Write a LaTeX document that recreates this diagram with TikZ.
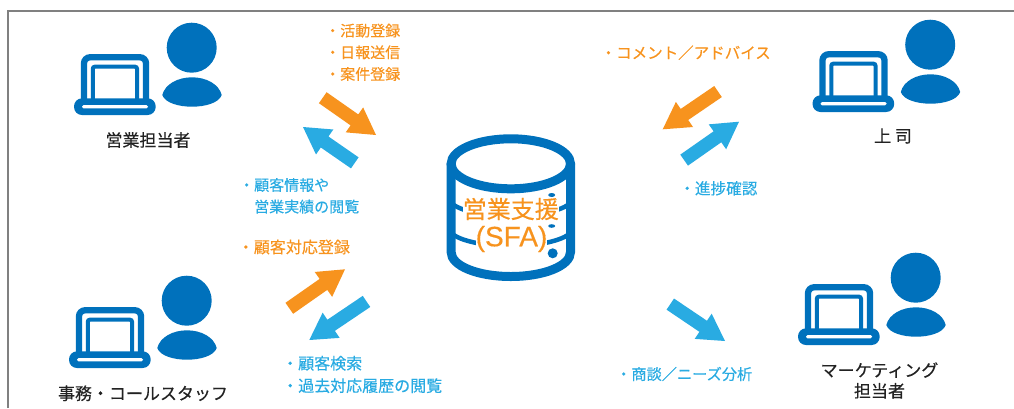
\documentclass[tikz,border=0pt]{standalone}
\usepackage{fontspec}
\setmainfont[FakeBold=0.35]{Noto Sans CJK JP}
\newfontfamily\sfafont[FakeBold=0.35]{Liberation Sans}
\usetikzlibrary{shapes.arrows}
\definecolor{markblue}{RGB}{0,113,188}
\definecolor{lightblue}{RGB}{41,171,226}
\definecolor{markorange}{RGB}{247,147,30}
\definecolor{framegray}{RGB}{128,128,128}
\definecolor{inkblack}{RGB}{34,34,34}
\tikzstyle{arrowbase} = [single arrow, inner sep=6.5pt, outer sep=0pt, anchor=tip, single arrow head extend=8.5pt, single arrow tip angle=60, single arrow head indent=0pt, minimum height=66pt]
\tikzstyle{orangearrow} = [arrowbase, fill=markorange]
\tikzstyle{bluearrow} = [arrowbase, fill=lightblue]
\tikzstyle{orangelabel} = [anchor=west, align=left, inner sep=0pt, text=markorange, font=\fontsize{15}{21.7}\selectfont]
\tikzstyle{bluelabel} = [anchor=west, align=left, inner sep=0pt, text=lightblue, font=\fontsize{15}{21.7}\selectfont]
\tikzstyle{staffname} = [align=center, inner sep=0pt, text=inkblack, font=\fontsize{17}{20.7}\selectfont]
\tikzstyle{sfatext} = [inner sep=0pt, fill=white, text=markorange]
\newcommand{\staffmark}[2]{
\begin{scope}[shift={(#1,#2)}]
\fill[markblue] (191.7,47.7) circle (25);
\fill[markblue] (162.3,95) .. controls (165,84) and (178,77.3) .. (192,77.3) .. controls (206,77.3) and (219,84) .. (221.7,95) .. controls (219,103) and (205,106.7) .. (192,106.7) .. controls (179,106.7) and (165,103) .. (162.3,95) -- cycle;
\draw[markblue, line width=6.3pt, rounded corners=6pt] (84,101) -- (84,57.3) -- (146,57.3) -- (146,101);
\draw[markblue, line width=4pt, rounded corners=2pt] (92.8,100) -- (92.8,66.7) -- (137,66.7) -- (137,100);
\fill[markblue, rounded corners=8pt] (74,98.3) rectangle (155.7,115);
\fill[white, rounded corners=1.5pt] (82,105) rectangle (148,108.4);
\end{scope}
}

\begin{document}
\begin{tikzpicture}[x=1pt,y=-1pt]
\useasboundingbox (0,0) rectangle (1014,408);
\draw[framegray, line width=2pt] (8,408) -- (8,11) -- (1014,11);

% people
\staffmark{0}{0}
\staffmark{-5}{253}
\staffmark{738.5}{-3}
\staffmark{724}{230}
\node (sales) [staffname] at (148,140) {営業担当者};
\node (office) [staffname] at (143,393.3) {事務・コールスタッフ};
\node (boss) [staffname] at (893,136) {上 司};
\node (marketing) [staffname] at (879.5,380.5) {マーケティング\\担当者};

% database
\draw[markblue, line width=9pt] (510.8,163.8) ellipse [x radius=59.7, y radius=25];
\draw[markblue, line width=9pt] (451.1,163.8) -- (451.1,252) .. controls (451.1,266) and (478,276.5) .. (510.8,276.5) .. controls (543.6,276.5) and (570.5,266) .. (570.5,252) -- (570.5,163.8);
\draw[markblue, line width=4.5pt] (451.1,203) .. controls (460,211) and (484,216) .. (510.8,216) .. controls (537.6,216) and (561.6,211) .. (570.5,203);
\draw[markblue, line width=4.5pt] (451.1,233) .. controls (460,241) and (484,246) .. (510.8,246) .. controls (537.6,246) and (561.6,241) .. (570.5,233);
\fill[markblue] (552.7,253.3) circle (5);
\fill[markblue] (551.7,195) ellipse [x radius=3.5, y radius=2];
\fill[markblue] (551.7,226) ellipse [x radius=3.5, y radius=1.8];
\node (sfaname) [sfatext, font=\fontsize{24}{24}\selectfont] at (510.8,209) {営業支援};
\node (sfacode) [sfatext, font=\sfafont\fontsize{28}{28}\selectfont] at (511.5,239) {(SFA)};

% arrows
\node (inputarrow) [orangearrow, rotate=-35, minimum height=65pt] at (376,135) {};
\node (viewarrow) [bluearrow, rotate=145.3, minimum height=63pt] at (303,127) {};
\node (entryarrow) [orangearrow, rotate=35, minimum height=68pt] at (345,269.3) {};
\node (searcharrow) [bluearrow, rotate=214, minimum height=69pt] at (309.3,340) {};
\node (advicearrow) [orangearrow, rotate=214.3, minimum height=67pt] at (662.7,129.3) {};
\node (progressarrow) [bluearrow, rotate=35, minimum height=67pt] at (739,121.7) {};
\node (analysisarrow) [bluearrow, rotate=-34, minimum height=66pt] at (725,341) {};

% labels
\node (inputlabel) [orangelabel] at (325,52.3) {・活動登録\\・日報送信\\・案件登録};
\node (viewlabel) [bluelabel] at (239,195.8) {・顧客情報や\\　営業実績の閲覧};
\node (entrylabel) [orangelabel, font=\fontsize{16}{22.4}\selectfont] at (237.7,247) {・顧客対応登録};
\node (searchlabel) [bluelabel, font=\fontsize{16}{22.4}\selectfont] at (282,374.5) {・顧客検索\\・過去対応履歴の閲覧};
\node (advicelabel) [orangelabel, font=\fontsize{15.5}{21.7}\selectfont] at (600.5,52.7) {・コメント／アドバイス};
\node (progresslabel) [bluelabel, font=\fontsize{15.6}{21.7}\selectfont] at (679.2,188.3) {・進捗確認};
\node (analysislabel) [bluelabel, font=\fontsize{15.2}{21.7}\selectfont] at (616,374) {・商談／ニーズ分析};
\end{tikzpicture}
\end{document}
